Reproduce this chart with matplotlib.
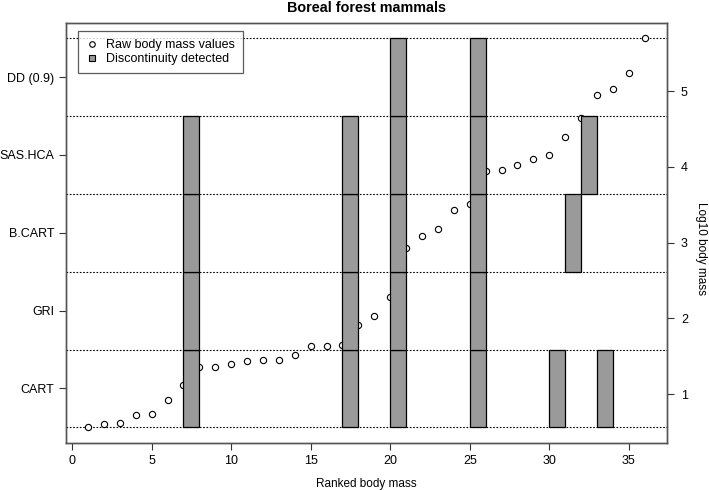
import matplotlib.pyplot as plt
import numpy as np
from matplotlib.lines import Line2D

# log10 body mass, sorted (rank 1..36)
log_mass = [0.56, 0.61, 0.62, 0.72, 0.74, 0.92, 1.12, 1.36, 1.36, 1.39,
            1.43, 1.45, 1.45, 1.52, 1.63, 1.64, 1.645, 1.91, 2.03, 2.285,
            2.925, 3.09, 3.18, 3.43, 3.505, 3.94, 3.96, 4.02, 4.10, 4.16,
            4.39, 4.65, 4.95, 5.03, 5.24, 5.70]
ranks = list(range(1, len(log_mass) + 1))

methods = ["CART", "GRI", "B.CART", "SAS.HCA", "DD (0.9)"]
# rank after which a discontinuity is detected, per method
breaks = {
    "CART": [7, 17, 20, 25, 30, 33],
    "GRI": [7, 17, 20, 25],
    "B.CART": [7, 17, 20, 25, 31],
    "SAS.HCA": [7, 17, 20, 25, 32],
    "DD (0.9)": [20, 25],
}

plt.rcParams['font.family'] = ['Liberation Sans', 'DejaVu Sans']

fig = plt.figure(figsize=(7.09, 4.9), dpi=100)
ax = fig.add_axes([0.0931, 0.0959, 0.8477, 0.8571])

edges = np.linspace(min(log_mass), max(log_mass), len(methods) + 1)
centers = (edges[:-1] + edges[1:]) / 2

# raw values (drawn under the bars)
ax.plot(ranks, log_mass, linestyle='none', marker='o', markersize=4.5,
        markerfacecolor='white', markeredgecolor='black', markeredgewidth=0.8,
        zorder=2)

for y in edges:
    ax.axhline(y, color='black', linestyle=(0, (1.5, 1.5)), linewidth=0.8, zorder=1)

for i, m in enumerate(methods):
    for b in breaks[m]:
        ax.bar(b, edges[i + 1] - edges[i], width=1, bottom=edges[i], align='edge',
               color='#9a9a9a', edgecolor='black', linewidth=0.9, zorder=3)

ax.set_xlim(-0.38, 37.4)
ax.set_ylim(0.353, 5.90)
ax.set_xticks([0, 5, 10, 15, 20, 25, 30, 35])
ax.set_yticks(centers)
ax.set_yticklabels(methods)
ax.tick_params(axis='both', labelsize=9, length=5, color='#333333', width=0.8)
ax.set_xlabel("Ranked body mass", fontsize=8.5, labelpad=8)
ax.set_title("Boreal forest mammals", fontsize=10.4, fontweight='bold', pad=8)

ax2 = ax.twinx()
ax2.set_ylim(ax.get_ylim())
ax2.set_yticks([1, 2, 3, 4, 5])
ax2.tick_params(axis='y', labelsize=9, length=5, pad=5, color='#333333', width=0.8)
ax2.set_ylabel("Log10 body mass", fontsize=8.5, rotation=270, va='center')
ax2.yaxis.set_label_coords(1.057, 0.464)

for a in (ax, ax2):
    for s in a.spines.values():
        s.set_color('#555555')
        s.set_linewidth(1.0)

handles = [
    Line2D([], [], linestyle='none', marker='o', markersize=4,
           markerfacecolor='white', markeredgecolor='black', markeredgewidth=0.8),
    Line2D([], [], linestyle='none', marker='s', markersize=5,
           markerfacecolor='#9a9a9a', markeredgecolor='black', markeredgewidth=0.8),
]
leg = ax.legend(handles, ["Raw body mass values", "Discontinuity detected"],
                loc='upper left', bbox_to_anchor=(0.020, 0.981), borderaxespad=0,
                fontsize=9, frameon=True, fancybox=False, handlelength=1.0,
                handletextpad=0.6, borderpad=0.65, labelspacing=0.15)
leg.get_frame().set_edgecolor('#333333')
leg.get_frame().set_linewidth(0.9)

fig.savefig("out.png", dpi=100)
